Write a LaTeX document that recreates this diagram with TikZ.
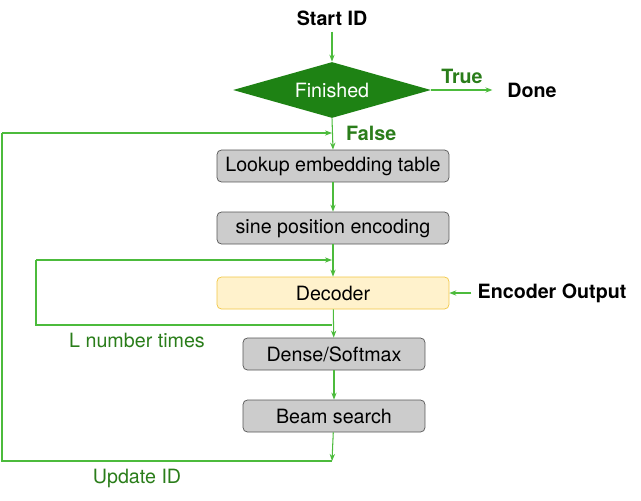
\documentclass[tikz,border=0pt]{standalone}
\usepackage{fontspec}
\setmainfont{TeX Gyre Heros}
\usetikzlibrary{shapes.geometric,arrows.meta}
\definecolor{flowgreen}{HTML}{4CBB3C}
\definecolor{labelgreen}{HTML}{2A7D1A}
\definecolor{darkgreen}{HTML}{1E8214}
\definecolor{boxgray}{HTML}{CCCCCC}
\definecolor{boxedge}{HTML}{555555}
\definecolor{decfill}{HTML}{FFF2CC}
\definecolor{decedge}{HTML}{F2C744}

\begin{document}
\begin{tikzpicture}[x=0.02cm, y=-0.02cm,
    every node/.style={font=\fontsize{11.2}{13}\selectfont},
    flow/.style={flowgreen, line width=0.6pt},
    arr/.style={flow, -{Stealth[length=4pt,width=3pt]}},
    title/.style={font=\fontsize{11.2}{13}\selectfont\bfseries},
    greenlabel/.style={labelgreen},
    stepbox/.style={draw=boxedge, fill=boxgray, rounded corners=2.5pt,
        minimum height=0.64cm, inner sep=0pt},
    decbox/.style={stepbox, draw=decedge, fill=decfill}]
    \useasboundingbox (0,0) rectangle (641,500);

    % Start and test
    \node[title] (start) at (332,18) {Start ID};
    \node[diamond, fill=darkgreen, text=white, inner sep=0pt,
        minimum width=3.96cm, minimum height=1.12cm, aspect=3.5] (finished) at (332,90) {Finished};
    \node[title] (done) at (532,90) {Done};
    \node[title, labelgreen] (truelabel) at (462,76) {True};
    \node[title, labelgreen, anchor=west] (falselabel) at (340,133) {False};

    % Processing steps
    \node[stepbox, minimum width=4.64cm] (lookup) at (333,166) {Lookup embedding table};
    \node[stepbox, minimum width=4.64cm] (sine) at (333,228) {sine position encoding};
    \node[decbox, minimum width=4.64cm] (decoder) at (333,293) {Decoder};
    \node[title] (encoder) at (552,293) {Encoder Output};
    \node[stepbox, minimum width=3.64cm] (dense) at (334,354) {Dense/Softmax};
    \node[stepbox, minimum width=3.64cm] (beam) at (334,416) {Beam search};

    \node[greenlabel] (lnumber) at (137,340) {L number times};
    \node[greenlabel] (update) at (137,478) {Update ID};

    % Loop corners
    \coordinate (falsejoin) at (332,133);
    \coordinate (updatebottom) at (332,461);
    \coordinate (updatecorner) at (2,461);
    \coordinate (updatetop) at (2,133);
    \coordinate (loopout) at (332,325);
    \coordinate (loopbl) at (36,325);
    \coordinate (looptl) at (36,260);
    \coordinate (loopin) at (332,260);

    % Main flow
    \draw[arr] (start) -- (finished.north);
    \draw[arr, shorten >=5pt] (finished.east) -- (done.west);
    \draw[arr] (finished.south) -- (lookup.north);
    \draw[arr] (lookup) -- (sine);
    \draw[arr] (sine) -- (decoder);
    \draw[arr] (encoder) -- (decoder);
    \draw[arr] (decoder) -- (dense);
    \draw[arr] (dense) -- (beam);

    % Decoder loop
    \draw[flow] (loopout) -- (loopbl) -- (looptl);
    \draw[arr] (looptl) -- (loopin);

    % Update loop
    \draw[arr] (beam) -- (updatebottom);
    \draw[flow] (updatebottom) -- (updatecorner) -- (updatetop);
    \draw[arr] (updatetop) -- (falsejoin);
\end{tikzpicture}
\end{document}
